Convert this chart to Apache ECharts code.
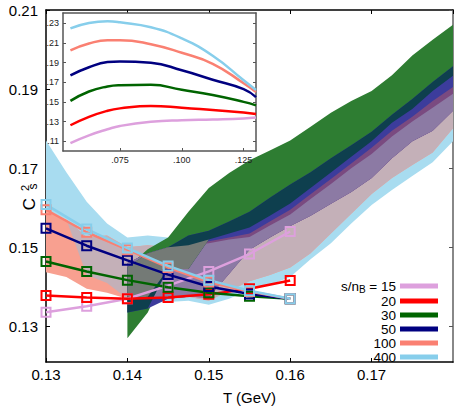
<!DOCTYPE html>
<html>
<head>
<meta charset="utf-8">
<script src="https://cdn.jsdelivr.net/npm/echarts@6/dist/echarts.min.js"></script>
<style>
html, body { margin: 0; padding: 0; background: #fff; }
#chart { width: 469px; height: 410px; }
</style>
</head>
<body>
<div id="chart"></div>
<script>
// main panel: HRG points along isentropes
const tempT = [0.13, 0.135, 0.14, 0.145, 0.15, 0.155, 0.16]
const cs15 = [0.1336, 0.1351, 0.137, 0.1403, 0.1439, 0.1483, 0.154]
const cs20 = [0.1378, 0.1373, 0.137, 0.1373, 0.1381, 0.1395, 0.1416]
const cs30 = [0.1464, 0.1439, 0.1417, 0.1399, 0.1385, 0.1376, 0.137]
const cs50 = [0.1548, 0.1504, 0.1467, 0.1431, 0.1401, 0.1382, 0.137]
const cs100 = [0.1595, 0.1538, 0.1494, 0.1449, 0.1412, 0.1388, 0.137]
const cs400 = [0.1608, 0.1546, 0.1498, 0.1453, 0.1417, 0.139, 0.137]

// lattice bands
const bandT = [0.13, 0.1325, 0.135, 0.1375, 0.14, 0.1425, 0.145, 0.1475, 0.15, 0.1525, 0.155,
  0.1575, 0.16, 0.1625, 0.165, 0.1675, 0.17, 0.1725, 0.175, 0.1775, 0.18]
const blueUpper = [0.177, 0.169, 0.1615, 0.156, 0.1525, 0.153, 0.1525, 0.151, 0.151, 0.152, 0.1526,
  0.1555, 0.1583, 0.1622, 0.166, 0.170, 0.1736, 0.178, 0.1818, 0.1853, 0.1888]
const blueLower = [0.1595, 0.157, 0.143, 0.141, 0.1365, 0.136, 0.1362, 0.1365, 0.1355, 0.137, 0.1393,
  0.1405, 0.1425, 0.147, 0.151, 0.156, 0.1607, 0.1645, 0.168, 0.1715, 0.1768]
const salmonUpper = [0.1595, 0.157, 0.1526, 0.153, 0.150, 0.1505, 0.150, 0.1505, 0.1515, 0.1525, 0.1535,
  0.1565, 0.1595, 0.1634, 0.1673, 0.1712, 0.1752, 0.1795, 0.183, 0.187, 0.1905]
const salmonLower = [0.1437, 0.1425, 0.1395, 0.1385, 0.137, 0.1375, 0.137, 0.1375, 0.1365, 0.139, 0.1414,
  0.143, 0.1449, 0.1485, 0.1535, 0.1585, 0.1635, 0.1675, 0.1708, 0.174, 0.1801]
const greenUpper = [null, null, null, null, 0.145, 0.1495, 0.1525, 0.159, 0.165, 0.1688, 0.172,
  0.1745, 0.177, 0.1805, 0.184, 0.187, 0.1895, 0.1935, 0.1985, 0.2025, 0.2063]
const greenLower = [null, null, null, null, 0.127, 0.1335, 0.1445, 0.1445, 0.152, 0.1535, 0.155,
  0.158, 0.1611, 0.165, 0.1689, 0.1729, 0.1768, 0.1815, 0.185, 0.1895, 0.1934]
const navyUpper = [null, null, null, null, 0.146, 0.1485, 0.150, 0.153, 0.1542, 0.1565, 0.159,
  0.1625, 0.1659, 0.169, 0.1725, 0.1758, 0.1792, 0.1835, 0.1875, 0.1918, 0.1958]
const navyLower = [null, null, null, null, 0.1335, 0.1345, 0.137, 0.1375, 0.1373, 0.1433, 0.1494,
  0.1525, 0.1554, 0.158, 0.161, 0.164, 0.1675, 0.1725, 0.1768, 0.1795, 0.1845]

// inset
const insetT = [0.055, 0.0625, 0.07, 0.075, 0.0875, 0.1, 0.1125, 0.125, 0.13]
const in15 = [0.108, 0.1159, 0.1221, 0.1255, 0.1297, 0.1314, 0.1321, 0.1331, 0.1341]
const in20 = [0.1262, 0.1348, 0.141, 0.1434, 0.1458, 0.1441, 0.1417, 0.1393, 0.1376]
const in30 = [0.151, 0.1606, 0.1657, 0.167, 0.1674, 0.1623, 0.157, 0.150, 0.1465]
const in50 = [0.177, 0.1853, 0.1905, 0.1912, 0.1898, 0.1822, 0.1726, 0.163, 0.1548]
const in100 = [0.2025, 0.2094, 0.2128, 0.2128, 0.2087, 0.2, 0.1888, 0.169, 0.160]
const in400 = [0.2248, 0.2303, 0.232, 0.231, 0.226, 0.2146, 0.197, 0.172, 0.162]

const mainYTicks = [0.13, 0.15, 0.17, 0.19, 0.21]
const insetXTicks = [0.075, 0.1, 0.125]
const insetYTicks = [0.11, 0.13, 0.15, 0.17, 0.19, 0.21, 0.23]

const names = ['15', '20', '30', '50', '100', '400']
const colors = ['#dda0dd', '#ff0000', '#006400', '#000080', '#fa8072', '#87ceeb']
const mainData = [cs15, cs20, cs30, cs50, cs100, cs400]
const insetData = [in15, in20, in30, in50, in100, in400]

const font = '"Liberation Sans", Arial, sans-serif'

const blueBand = [blueUpper, blueLower]
const salmonBand = [salmonUpper, salmonLower]
const greenBand = [greenUpper, greenLower]
const navyBand = [navyUpper, navyLower]

// common part of several bands, point by point
function overlap(bands) {
  const up = []
  const lo = []
  bandT.forEach((t, i) => {
    if (bands.some(b => b[0][i] == null)) {
      up.push(null)
      lo.push(null)
      return
    }
    const u = Math.min(...bands.map(b => b[0][i]))
    const l = Math.max(...bands.map(b => b[1][i]))
    up.push(Math.max(u, l))
    lo.push(l)
  })
  return [up, lo]
}

function bandSeries(band, color) {
  return {
    type: 'custom',
    silent: true,
    xAxisIndex: 0,
    yAxisIndex: 0,
    z: 1,
    data: [0],
    renderItem: function (params, api) {
      const top = []
      const bottom = []
      for (let i = 0; i < bandT.length; i++) {
        if (band[0][i] == null || band[1][i] == null) continue
        top.push(api.coord([bandT[i], band[0][i]]))
        bottom.unshift(api.coord([bandT[i], band[1][i]]))
      }
      return {
        type: 'polygon',
        shape: { points: top.concat(bottom) },
        style: { fill: color }
      }
    }
  }
}

const series = [
  bandSeries(blueBand, '#a8dcf0'),
  bandSeries(salmonBand, '#f8a090'),
  bandSeries(overlap([salmonBand, blueBand]), '#c4b0b8'),
  bandSeries(greenBand, '#2e7d32'),
  bandSeries(navyBand, '#3c3c9c'),
  bandSeries(overlap([navyBand, salmonBand]), '#7a4a80'),
  bandSeries(overlap([navyBand, salmonBand, blueBand]), '#8c7aa4'),
  bandSeries(overlap([navyBand, greenBand]), '#0e3f4e'),
  bandSeries(overlap([navyBand, greenBand, salmonBand]), '#747a76')
]

names.forEach((n, k) => {
  series.push({
    type: 'line',
    name: n,
    xAxisIndex: 0,
    yAxisIndex: 0,
    z: 5,
    data: tempT.map((t, i) => [t, mainData[k][i]]),
    symbol: 'rect',
    symbolSize: 9,
    lineStyle: { color: colors[k], width: 2.5 },
    itemStyle: { color: 'rgba(255,255,255,0)', borderColor: colors[k], borderWidth: 2 },
    emphasis: { disabled: true }
  })
})

names.forEach((n, k) => {
  series.push({
    type: 'line',
    name: 'inset' + n,
    xAxisIndex: 2,
    yAxisIndex: 2,
    z: 12,
    smooth: true,
    showSymbol: false,
    data: insetT.map((t, i) => [t, insetData[k][i]]),
    lineStyle: { color: colors[k], width: 2.5 },
    emphasis: { disabled: true }
  })
})

const option = {
  animation: false,
  backgroundColor: '#fff',
  grid: [
    { left: 46, top: 10, right: 16, bottom: 33 },
    { left: 63, top: 13, width: 193, height: 138, show: true, backgroundColor: '#fff', borderWidth: 0, z: 8 }
  ],
  xAxis: [
    {
      type: 'value', gridIndex: 0, min: 0.13, max: 0.18, interval: 0.01,
      axisLine: { lineStyle: { color: '#000', width: 1.5 } },
      axisTick: { inside: true, length: 4, lineStyle: { color: '#000' } },
      axisLabel: { formatter: v => v.toFixed(2), showMaxLabel: false, fontSize: 15, color: '#000', margin: 5, fontFamily: font },
      splitLine: { show: false },
      name: 'T (GeV)', nameLocation: 'middle', nameGap: 28,
      nameTextStyle: { fontSize: 15, color: '#000', fontFamily: font }
    },
    {
      type: 'value', gridIndex: 0, position: 'top', min: 0.13, max: 0.18, interval: 0.01,
      axisLine: { lineStyle: { color: '#000', width: 1.5 } },
      axisTick: { inside: true, length: 4, lineStyle: { color: '#000' } },
      axisLabel: { show: false },
      splitLine: { show: false }
    },
    {
      type: 'value', gridIndex: 1, min: 0.052, max: 0.13, z: 9,
      axisLine: { lineStyle: { color: '#555', width: 1.5 } },
      axisTick: { inside: true, length: 3, customValues: insetXTicks, lineStyle: { color: '#555' } },
      axisLabel: { customValues: insetXTicks, formatter: v => '.' + String(Math.round(v * 1000)).padStart(3, '0'), fontSize: 9, color: '#222', margin: 4, fontFamily: font },
      splitLine: { show: false }
    },
    {
      type: 'value', gridIndex: 1, position: 'top', min: 0.052, max: 0.13, z: 9,
      axisLine: { lineStyle: { color: '#555', width: 1.5 } },
      axisTick: { show: false },
      axisLabel: { show: false },
      splitLine: { show: false }
    }
  ],
  yAxis: [
    {
      type: 'value', gridIndex: 0, min: 0.121, max: 0.21,
      axisLine: { show: true, lineStyle: { color: '#000', width: 1.5 } },
      axisTick: { show: true, inside: true, length: 4, customValues: mainYTicks, lineStyle: { color: '#000' } },
      axisLabel: { customValues: mainYTicks, formatter: v => v.toFixed(2), fontSize: 15, color: '#000', margin: 8, fontFamily: font },
      splitLine: { show: false }
    },
    {
      type: 'value', gridIndex: 0, position: 'right', min: 0.121, max: 0.21,
      axisLine: { show: true, lineStyle: { color: '#888', width: 2 } },
      axisTick: { show: true, inside: true, length: 4, customValues: mainYTicks, lineStyle: { color: '#555' } },
      axisLabel: { show: false },
      splitLine: { show: false }
    },
    {
      type: 'value', gridIndex: 1, min: 0.1, max: 0.2405, z: 9,
      axisLine: { show: true, lineStyle: { color: '#555', width: 1.5 } },
      axisTick: { show: true, inside: true, length: 3, customValues: insetYTicks, lineStyle: { color: '#555' } },
      axisLabel: { customValues: insetYTicks, formatter: v => '.' + Math.round(v * 100), fontSize: 9, color: '#222', margin: 4, fontFamily: font },
      splitLine: { show: false }
    },
    {
      type: 'value', gridIndex: 1, position: 'right', min: 0.1, max: 0.2405, z: 9,
      axisLine: { show: true, lineStyle: { color: '#555', width: 1.5 } },
      axisTick: { show: true, inside: true, length: 3, customValues: insetYTicks, lineStyle: { color: '#555' } },
      axisLabel: { show: false },
      splitLine: { show: false }
    }
  ],
  legend: {
    orient: 'vertical',
    right: 26,
    top: 273,
    align: 'right',
    icon: 'rect',
    itemWidth: 36,
    itemHeight: 3,
    itemGap: 0,
    selectedMode: false,
    data: names.map((n, k) => ({ name: n, itemStyle: { color: colors[k] } })),
    formatter: n => (n === '15' ? '{a|s/n}{sub|B}{a| = 15}' : '{t|' + n + '}'),
    textStyle: {
      fontFamily: font, fontSize: 13.5, color: '#000',
      rich: {
        a: { fontFamily: font, fontSize: 13.5, lineHeight: 14.5, color: '#000' },
        sub: { fontFamily: font, fontSize: 10, lineHeight: 8, padding: [6, 0, 0, 0], color: '#000' },
        t: { fontFamily: font, fontSize: 13.5, lineHeight: 14.5, width: 58, align: 'right', color: '#000' }
      }
    }
  },
  graphic: [
    { type: 'text', x: 29, y: 204, rotation: Math.PI / 2, style: { text: 'C', font: '17px ' + font, fill: '#000', align: 'center', verticalAlign: 'middle' } },
    { type: 'text', x: 24.5, y: 188, rotation: Math.PI / 2, style: { text: '2', font: '11px ' + font, fill: '#000', align: 'center', verticalAlign: 'middle' } },
    { type: 'text', x: 32.5, y: 186.5, rotation: Math.PI / 2, style: { text: 's', font: '12px ' + font, fill: '#000', align: 'center', verticalAlign: 'middle' } }
  ],
  series: series
}

const chart = echarts.init(document.getElementById('chart'), null, { renderer: 'svg' })
chart.setOption(option)
</script>
</body>
</html>
